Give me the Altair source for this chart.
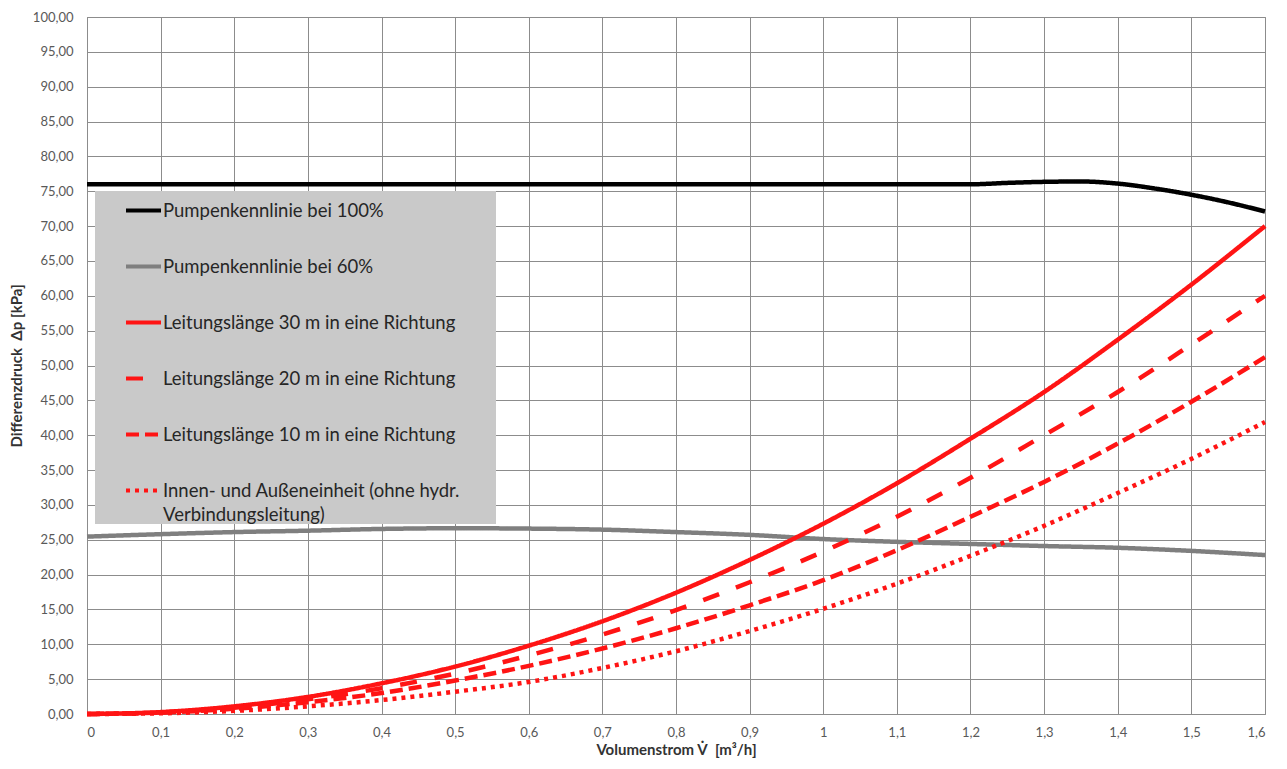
import altair as alt
import pandas as pd

# ---- data ----
x_grid = [0.0, 0.1, 0.2, 0.3, 0.4, 0.5, 0.6, 0.7, 0.8, 0.9, 1.0, 1.1, 1.2, 1.3, 1.4, 1.5, 1.6]

x_p100 = [0.0, 0.2, 0.4, 0.6, 0.8, 1.0, 1.2, 1.25, 1.3, 1.35, 1.4, 1.45, 1.5, 1.55, 1.6]
p100 = [76.0, 76.0, 76.0, 76.0, 76.0, 76.0, 76.0, 76.2, 76.35, 76.4, 76.1, 75.4, 74.5, 73.4, 72.1]

p60 = [25.45, 25.8, 26.1, 26.3, 26.55, 26.65, 26.6, 26.45, 26.1, 25.7, 25.1, 24.7, 24.4, 24.1, 23.85, 23.4, 22.8]
l30 = [0.0, 0.27, 1.1, 2.45, 4.4, 6.8, 9.8, 13.3, 17.4, 22.1, 27.3, 33.1, 39.5, 46.2, 53.7, 61.6, 70.0]
l20 = [0.0, 0.23, 0.9, 2.1, 3.7, 5.8, 8.4, 11.4, 14.9, 18.9, 23.3, 28.3, 33.9, 40.0, 46.2, 53.0, 60.0]
l10 = [0.0, 0.2, 0.75, 1.7, 3.0, 4.8, 6.9, 9.4, 12.3, 15.6, 19.2, 23.5, 28.3, 33.3, 38.8, 44.8, 51.2]
unit = [0.0, 0.1, 0.45, 1.1, 2.0, 3.2, 4.6, 6.6, 9.0, 11.9, 15.1, 18.7, 22.7, 27.0, 31.7, 36.6, 41.9]

series = [
    "Pumpenkennlinie bei 100%",
    "Pumpenkennlinie bei 60%",
    "Leitungslänge 30 m in eine Richtung",
    "Leitungslänge 20 m in eine Richtung",
    "Leitungslänge 10 m in eine Richtung",
    "Innen- und Außeneinheit (ohne hydr. Verbindungsleitung)",
]
colors = ["#000000", "#7f7f7f", "#ff1414", "#ff1414", "#ff1414", "#ff1414"]
dashes = [[1, 0], [1, 0], [1, 0], [17, 18], [13, 6], [4, 5]]

x_ticks = [0, 0.1, 0.2, 0.3, 0.4, 0.5, 0.6, 0.7, 0.8, 0.9, 1, 1.1, 1.2, 1.3, 1.4, 1.5, 1.6]
y_ticks = [0, 5, 10, 15, 20, 25, 30, 35, 40, 45, 50, 55, 60, 65, 70, 75, 80, 85, 90, 95, 100]

rows = []
for xv, yv in zip(x_p100, p100):
    rows.append({"x": xv, "y": yv, "s": series[0], "o": 0})
for k, vals in enumerate([p60, l30, l20, l10, unit], start=1):
    for xv, yv in zip(x_grid, vals):
        rows.append({"x": xv, "y": yv, "s": series[k], "o": k})
df = pd.DataFrame(rows)

FONT = "Lato"
last = series[5]
label_expr = (
    "datum.label == '" + last + "' ? "
    "['Innen- und Außeneinheit (ohne hydr.', 'Verbindungsleitung)'] : datum.label"
)

legend = alt.Legend(
    title="\u00a0",
    titleOrient="right",
    titlePadding=36,
    titleFontSize=1,
    orient="none",
    legendX=8,
    legendY=174,
    fillColor="#c9c9c9",
    padding=0,
    symbolType="stroke",
    symbolSize=1225,
    symbolStrokeWidth=4,
    symbolOffset=29,
    labelOffset=0,
    labelFont=FONT,
    labelFontSize=18.5,
    labelColor="#262626",
    labelLimit=600,
    rowPadding=27,
    labelExpr=label_expr,
)

chart = (
    alt.Chart(df)
    .mark_line(strokeWidth=4.5, interpolate="monotone")
    .encode(
        x=alt.X(
            "x:Q",
            scale=alt.Scale(domain=[0, 1.6], nice=False, zero=False),
            axis=alt.Axis(
                values=x_ticks,
                labelExpr="replace(format(datum.value, '~g'), '.', ',')",
                title="Volumenstrom V\u0307 \u00a0[m³/h]",
                labelPadding=12,
                titlePadding=3,
            ),
        ),
        y=alt.Y(
            "y:Q",
            scale=alt.Scale(domain=[0, 100], nice=False),
            axis=alt.Axis(
                values=y_ticks,
                labelExpr="replace(format(datum.value, '.2f'), '.', ',')",
                title="Differenzdruck \u00a0Δp [kPa]",
                labelPadding=14,
                titlePadding=8,
            ),
        ),
        color=alt.Color("s:N", scale=alt.Scale(domain=series, range=colors), legend=legend),
        strokeDash=alt.StrokeDash("s:N", scale=alt.Scale(domain=series, range=dashes), legend=legend),
        order="o:O",
        detail="s:N",
    )
    .properties(
        width=1178,
        height=697,
        autosize=alt.AutoSizeParams(type="none"),
        padding={"left": 79, "top": 9, "right": 12, "bottom": 45},
    )
    .configure(style={"guide-label": {"lineHeight": 24}})
    .configure_axis(
        labelFont=FONT,
        labelFontSize=13,
        labelColor="#595959",
        titleFont=FONT,
        titleFontSize=15,
        titleFontWeight="bold",
        titleColor="#333333",
        grid=True,
        gridColor="#8c8c8c",
        gridWidth=1,
        domainColor="#8c8c8c",
        ticks=False,
    )
    .configure_view(stroke="#8c8c8c")
)

chart.save("out.html", embed_options={"renderer": "svg", "actions": False})
